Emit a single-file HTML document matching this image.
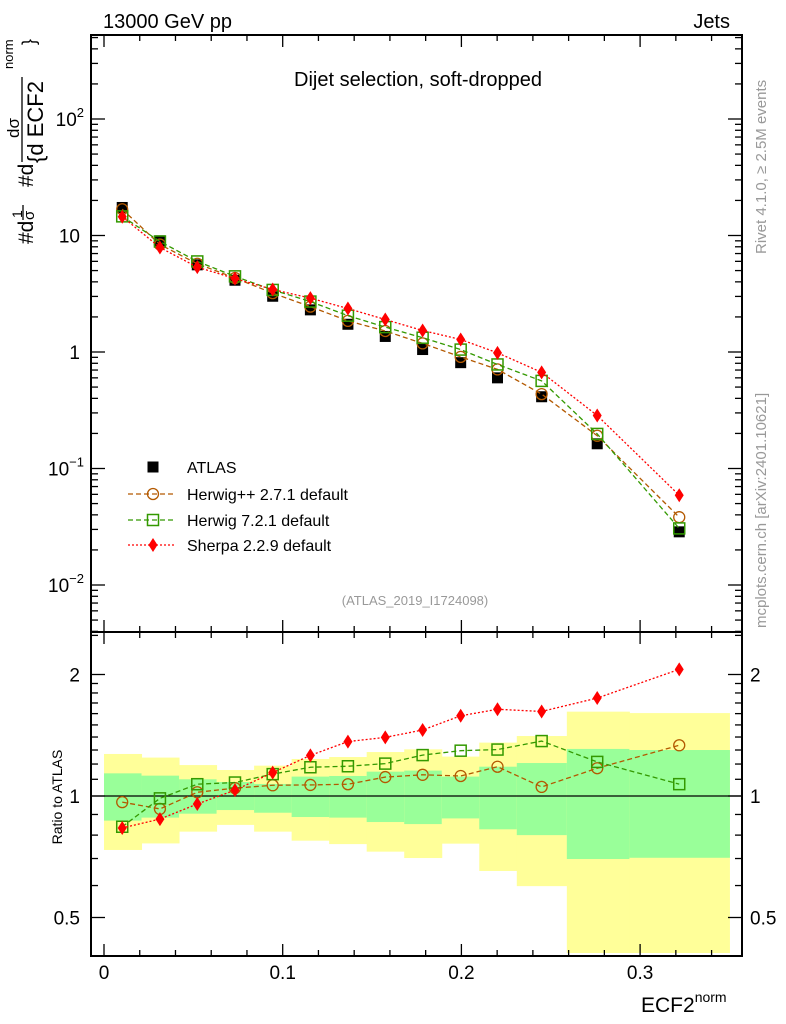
<!DOCTYPE html>
<html><head><meta charset="utf-8"><style>
html,body{margin:0;padding:0;background:#fff}
svg{display:block;font-family:"Liberation Sans",Arial,sans-serif}
</style></head><body>
<svg id="chart" width="786" height="1024" viewBox="0 0 786 1024">
<defs>
<clipPath id="clipMain"><rect x="91" y="35" width="651" height="597"/></clipPath>
<clipPath id="clipRatio"><rect x="91" y="632" width="651" height="324"/></clipPath>
</defs>
<g id="ratioBands" clip-path="url(#clipRatio)"></g>
<g id="mainMarks" clip-path="url(#clipMain)"></g>
<g id="ratioMarks" clip-path="url(#clipRatio)"></g>
<g id="axes"></g>
<text x="103" y="28" font-size="20">13000 GeV pp</text>
<text x="730" y="28" font-size="20" text-anchor="end">Jets</text>
<text x="418" y="86" font-size="20" text-anchor="middle">Dijet selection, soft-dropped</text>
<text x="415" y="605" font-size="13" fill="#999" text-anchor="middle">(ATLAS_2019_I1724098)</text>
<text transform="translate(766,254) rotate(-90)" font-size="15" fill="#999">Rivet 4.1.0, ≥ 2.5M events</text>
<text transform="translate(766,628) rotate(-90)" font-size="15" fill="#999">mcplots.cern.ch [arXiv:2401.10621]</text>
<g transform="translate(33,244) rotate(-90)" font-size="21">
<text x="0" y="0">#d</text>
<text x="26" y="-11" font-size="14">1</text>
<line x1="24" y1="-10" x2="39" y2="-10" stroke="#000" stroke-width="1.3"/>
<text x="24" y="1" font-size="15">σ</text>
<text x="57" y="0">#d</text>
<line x1="82" y1="-11" x2="167" y2="-11" stroke="#000" stroke-width="1.3"/>
<text x="106" y="-14" font-size="17">dσ</text>
<text x="81" y="10" font-size="22">{d ECF2</text>
<text x="175" y="-20" font-size="13">norm</text>
<text x="199" y="2" font-size="18">}</text>
</g>
<text transform="translate(62,797) rotate(-90)" font-size="14" text-anchor="middle">Ratio to ATLAS</text>
<text x="641" y="1012" font-size="21">ECF2<tspan font-size="14" dy="-10">norm</tspan></text>
<g id="legend"></g>
</svg>
<script>
const binEdges=[0,0.021,0.042,0.063,0.084,0.105,0.126,0.147,0.168,0.189,0.21,0.231,0.259,0.294,0.35];
const binCenters=[0.0102,0.0313,0.0522,0.0733,0.0944,0.1155,0.1365,0.1574,0.1783,0.1996,0.2202,0.2449,0.276,0.3219];
const atlasValues=[17.4,9.0,5.6,4.13,3.01,2.30,1.73,1.36,1.05,0.81,0.60,0.413,0.163,0.0286];
const herwigppValues=[16.8,8.36,5.72,4.32,3.20,2.45,1.85,1.515,1.185,0.908,0.709,0.435,0.191,0.0382];
const herwig7Values=[14.6,8.88,5.99,4.46,3.41,2.71,2.05,1.636,1.326,1.049,0.782,0.565,0.198,0.0306];
const sherpaValues=[14.5,7.89,5.35,4.27,3.44,2.90,2.36,1.90,1.53,1.28,0.984,0.669,0.285,0.0589];
const yellowUp=[1.271,1.245,1.193,1.160,1.189,1.235,1.249,1.285,1.305,1.252,1.356,1.408,1.618,1.605];
const yellowDown=[0.735,0.763,0.816,0.848,0.816,0.775,0.760,0.728,0.702,0.762,0.652,0.598,0.3,0.3];
const greenUp=[1.138,1.123,1.100,1.083,1.071,1.117,1.121,1.149,1.156,1.117,1.182,1.207,1.308,1.300];
const greenDown=[0.869,0.884,0.904,0.923,0.909,0.887,0.884,0.862,0.852,0.880,0.827,0.800,0.698,0.703];
const xTicks=[0,0.1,0.2,0.3];
const xTickLabels=["0","0.1","0.2","0.3"];
const yMainDecades=[-2,-1,0,1,2];
const yMainExps=["−2","−1","","","2"];
const ratioTicks=[0.5,1,2];
const ratioTickLabels=["0.5","1","2"];

const NS="http://www.w3.org/2000/svg";
const L=91,R=742,MT=35,MB=632,RB=956;
function xs(v){return 104+v*1787;}
function ym(v){return 352-116.5*Math.log10(v);}
function yr(v){return 796-121.5*Math.log2(v);}
function mk(tag,attrs,parent){const e=document.createElementNS(NS,tag);for(const k in attrs)e.setAttribute(k,attrs[k]);parent.appendChild(e);return e;}
const bands=document.getElementById('ratioBands');
const main=document.getElementById('mainMarks');
const rat=document.getElementById('ratioMarks');
const axes=document.getElementById('axes');
const leg=document.getElementById('legend');

for(let i=0;i<binCenters.length;i++){
  const x0=xs(binEdges[i]),x1=xs(binEdges[i+1]);
  let r=mk('rect',{x:x0,y:yr(yellowUp[i]),width:x1-x0+0.5,height:Math.min(yr(yellowDown[i]),953)-yr(yellowUp[i]),fill:'#ffff99'},bands);
  
  
  let g=mk('rect',{x:x0,y:yr(greenUp[i]),width:x1-x0+0.5,height:yr(greenDown[i])-yr(greenUp[i]),fill:'#99ff99'},bands);
  
  
}
let one=mk('line',{x1:L,x2:R,y1:yr(1),y2:yr(1),stroke:'#000','stroke-width':1.3},rat);



const series=[
 {vals:herwigppValues,color:'#b35900',dash:'5,3',marker:'circle',name:'herwigpp'},
 {vals:herwig7Values,color:'#339900',dash:'5,3',marker:'square',name:'herwig7'},
 {vals:sherpaValues,color:'#ff0000',dash:'2,2',marker:'diamond',name:'sherpa'}
];
function marker(type,x,y,color,parent,nm){
  let e;
  if(type==='circle')e=mk('circle',{cx:x,cy:y,r:5.5,fill:'none',stroke:color,'stroke-width':1.3},parent);
  else if(type==='square')e=mk('rect',{x:x-5.5,y:y-5.5,width:11,height:11,fill:'none',stroke:color,'stroke-width':1.5},parent);
  else if(type==='diamond')e=mk('polygon',{points:`${x},${y-7} ${x+4.5},${y} ${x},${y+7} ${x-4.5},${y}`,fill:color},parent);
  else e=mk('rect',{x:x-5.5,y:y-5.5,width:11,height:11,fill:'#000'},parent);
  
  
}
for(let i=0;i<binCenters.length;i++){
  marker('atlas',xs(binCenters[i]),ym(atlasValues[i]),'#000',main,'atlas-point');
}
series.forEach(s=>{
  const pm=binCenters.map((c,i)=>xs(c)+','+ym(s.vals[i])).join(' ');
  let l=mk('polyline',{points:pm,fill:'none',stroke:s.color,'stroke-width':1.3,'stroke-dasharray':s.dash},main);
  
  
  const pr=binCenters.map((c,i)=>xs(c)+','+yr(s.vals[i]/atlasValues[i])).join(' ');
  let l2=mk('polyline',{points:pr,fill:'none',stroke:s.color,'stroke-width':1.3,'stroke-dasharray':s.dash},rat);
  
  
  for(let i=0;i<binCenters.length;i++){
    marker(s.marker,xs(binCenters[i]),ym(s.vals[i]),s.color,main,s.name+'-point');
    marker(s.marker,xs(binCenters[i]),yr(s.vals[i]/atlasValues[i]),s.color,rat,s.name+'-ratio-point');
  }
});

[[MT,MB],[MB,RB]].forEach(([t,b])=>{
  let f=mk('rect',{x:L,y:t,width:R-L,height:b-t,fill:'none',stroke:'#000','stroke-width':2},axes);
  
  
});
for(let k=0;k<=17;k++){
  const v=k*0.02;
  const x=xs(v);const major=(k%5===0);const len=major?12:6;
  [[MT,1],[MB,-1],[MB,1],[RB,-1]].forEach(([y,d])=>mk('line',{x1:x,x2:x,y1:y,y2:y+d*len,stroke:'#000','stroke-width':1.3},axes));
}
xTicks.forEach((v,i)=>{
  let t=mk('text',{x:xs(v),y:979,'font-size':19,'text-anchor':'middle'},axes);
  t.textContent=xTickLabels[i];
  
  
});
for(let d=-3;d<=2;d++){
  for(let m=1;m<10;m++){
    const y=ym(m*Math.pow(10,d));if(y<MT||y>MB)continue;
    const len=m===1?14:7;
    mk('line',{x1:L,x2:L+len,y1:y,y2:y,stroke:'#000','stroke-width':1.3},axes);
    mk('line',{x1:R,x2:R-len,y1:y,y2:y,stroke:'#000','stroke-width':1.3},axes);
  }
}
yMainDecades.forEach((d,i)=>{
  const y=ym(Math.pow(10,d))+7;
  let t=mk('text',{x:80,y:y,'font-size':19,'text-anchor':'end'},axes);
  if(d===0)t.textContent='1';
  else if(d===1)t.textContent='10';
  else{t.textContent='10';let s=document.createElementNS(NS,'tspan');s.setAttribute('font-size','13');s.setAttribute('dy','-9');s.textContent=yMainExps[i];t.appendChild(s);t.setAttribute('x',84);}
  
  
});
[0.4,0.5,0.6,0.7,0.8,0.9,1,1.1,1.2,1.3,1.4,1.5,1.6,1.7,1.8,1.9,2,2.5].forEach(v=>{
  const y=yr(v);if(y<MB||y>RB)return;
  const major=ratioTicks.includes(v);const len=major?14:7;
  mk('line',{x1:L,x2:L+len,y1:y,y2:y,stroke:'#000','stroke-width':1.3},axes);
  mk('line',{x1:R,x2:R-len,y1:y,y2:y,stroke:'#000','stroke-width':1.3},axes);
});
ratioTicks.forEach((v,i)=>{
  let t=mk('text',{x:80,y:yr(v)+7,'font-size':19,'text-anchor':'end'},axes);
  t.textContent=ratioTickLabels[i];
  
  
  let t2=mk('text',{x:750,y:yr(v)+7,'font-size':19},axes);
  t2.textContent=ratioTickLabels[i];
  
  
});
const legItems=[
 {label:'ATLAS',marker:'atlas',color:'#000',dash:null,y:467},
 {label:'Herwig++ 2.7.1 default',marker:'circle',color:'#b35900',dash:'5,3',y:494},
 {label:'Herwig 7.2.1 default',marker:'square',color:'#339900',dash:'5,3',y:520},
 {label:'Sherpa 2.2.9 default',marker:'diamond',color:'#ff0000',dash:'2,2',y:545}
];
legItems.forEach(it=>{
  if(it.dash){let l=mk('line',{x1:128,x2:176,y1:it.y,y2:it.y,stroke:it.color,'stroke-width':1.3,'stroke-dasharray':it.dash},leg);
    
    }
  marker(it.marker,153,it.y,it.color,leg,'legend-marker');
  let t=mk('text',{x:187,y:it.y+6,'font-size':16},leg);
  t.textContent=it.label;
  
  
});
</script>
</body></html>
